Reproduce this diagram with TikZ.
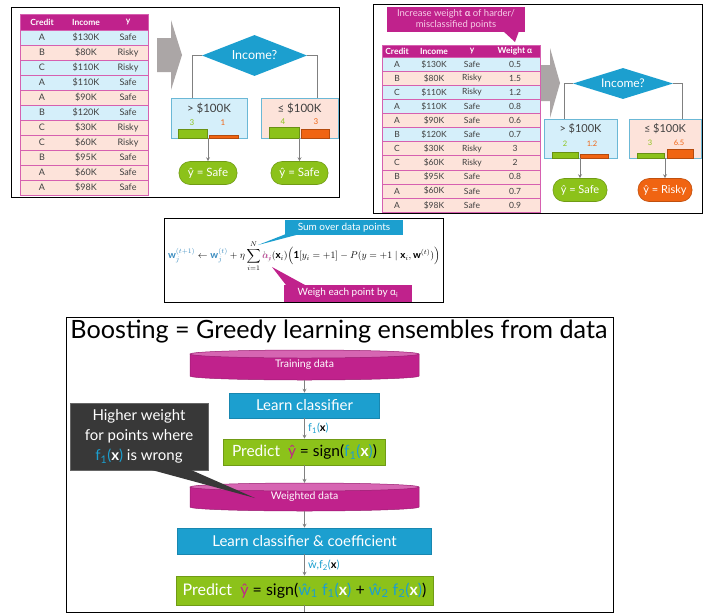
\documentclass[tikz,border=0pt]{standalone}
\usepackage{fontspec}
\setmainfont{Lato}
\usepackage{graphicx}
\usepackage{amsmath}
\usetikzlibrary{shapes.geometric,arrows.meta,calc}
\definecolor{mag}{HTML}{C0228C}
\definecolor{magtop}{HTML}{D665B2}
\definecolor{magline}{HTML}{D660B0}
\definecolor{rowblue}{HTML}{D5EFFA}
\definecolor{rowpeach}{HTML}{FDE3DA}
\definecolor{cblue}{HTML}{1C9FCF}
\definecolor{boxline}{HTML}{6BB8D6}
\definecolor{grn}{HTML}{8CC21A}
\definecolor{org}{HTML}{F06412}
\definecolor{garrow}{HTML}{ABA6A6}
\definecolor{linegray}{HTML}{808080}
\definecolor{darkbox}{HTML}{383838}
\definecolor{txtgray}{HTML}{404040}
\definecolor{wblue}{HTML}{3A8CC0}
\definecolor{calltxt}{HTML}{F6CBE6}
\newcommand{\fxb}[1]{\textcolor{cblue}{f\textsubscript{#1}(}\textbf{x}\textcolor{cblue}{)}}
\tikzset{
  panel/.style={draw=black,line width=1pt,inner sep=0},
  rowb/.style={draw=magline,line width=0.5pt,inner sep=0},
  cell/.style={text=txtgray,inner sep=0},
  hcell/.style={text=white,inner sep=0,font=\bfseries\fontsize{8.5}{9}\selectfont},
  qdiam/.style={diamond,aspect=2.5,fill=cblue,text=white,inner sep=0},
  leaf/.style={rectangle,draw=boxline,line width=0.8pt,inner sep=0},
  treeline/.style={draw=linegray,line width=0.8pt},
  arr/.style={draw=linegray,line width=0.8pt,-{Stealth[length=4pt,width=4pt]}},
  oval/.style={rectangle,rounded corners=11pt,minimum height=23pt,inner sep=0,text=white,line width=0.6pt},
  gbar/.style={fill=grn,draw=grn!75!black,line width=0.4pt},
  obar/.style={fill=org,draw=org!75!black,line width=0.4pt},
  gnum/.style={text=grn,inner sep=0},
  onum/.style={text=org,inner sep=0},
  flowbox/.style={rectangle,inner sep=0,text=white,line width=0.6pt},
}
\begin{document}
\begin{tikzpicture}[x=1pt,y=-1pt]
\useasboundingbox (0,0) rectangle (704,614);
\fill[white] (0,0) rectangle (704,614);

%================ Panel 1 =================
\node[panel,minimum width=328pt,minimum height=190pt] (pa) at (175,102) {};
\node[rowb,fill=mag,minimum width=128pt,minimum height=16pt] (tah) at (84,22) {};
\node[hcell] (tahA) at (42,22) {Credit};
\node[hcell] (tahB) at (86,22) {Income};
\node[hcell] (tahC) at (128,22) {y};
\foreach \ca/\cb/\cc/\rowc [count=\i] in {A/\$130K/Safe/rowblue, B/\$80K/Risky/rowpeach, C/\$110K/Risky/rowblue, A/\$110K/Safe/rowblue, A/\$90K/Safe/rowpeach, B/\$120K/Safe/rowblue, C/\$30K/Risky/rowpeach, C/\$60K/Risky/rowpeach, B/\$95K/Safe/rowpeach, A/\$60K/Safe/rowpeach, A/\$98K/Safe/rowpeach}{
  \pgfmathsetmacro\yc{30+15*(\i-0.5)}
  \node[rowb,fill=\rowc,minimum width=128pt,minimum height=15pt] (ta\i) at (84,\yc) {};
  \node[cell,font=\fontsize{9}{9}\selectfont] (taA\i) at (42,\yc) {\ca};
  \node[cell,font=\fontsize{9}{9}\selectfont] (taB\i) at (86,\yc) {\cb};
  \node[cell,font=\fontsize{9}{9}\selectfont] (taC\i) at (128,\yc) {\cc};
}
\fill[garrow] (157,38) -- (171,38) -- (171,20) -- (182,55) -- (171,90) -- (171,72) -- (157,72) -- cycle;
\node[qdiam,minimum width=105pt,minimum height=41pt,font=\fontsize{12.5}{13}\selectfont] (d1) at (254.5,55.5) {Income?};
\coordinate (c1l) at (192,98);
\coordinate (c1r) at (317,98);
\draw[treeline] (d1.west) -| (c1l);
\draw[treeline] (d1.east) -| (c1r);
\node[leaf,fill=rowblue,minimum width=76pt,minimum height=40pt] (b1l) at (209,118) {};
\node[leaf,fill=rowpeach,minimum width=77pt,minimum height=40pt] (b1r) at (299.5,118) {};
\node[cell,font=\fontsize{11.5}{12}\selectfont] (b1lt) at (209,108) {> \$100K};
\node[cell,font=\fontsize{11.5}{12}\selectfont] (b1rt) at (299.5,108) {≤ \$100K};
\node[gnum,font=\fontsize{8}{9}\selectfont] (n1a) at (192,123) {3};
\node[onum,font=\fontsize{8}{9}\selectfont] (n1b) at (223,123) {1};
\node[gnum,font=\fontsize{8}{9}\selectfont] (n1c) at (283,121.5) {4};
\node[onum,font=\fontsize{8}{9}\selectfont] (n1d) at (316,121.5) {3};
\draw[gbar] (178,129) rectangle (207,138);
\draw[obar] (209,135) rectangle (238,138);
\draw[gbar] (269,127) rectangle (299,138);
\draw[obar] (301,129) rectangle (329,138);
\node[oval,fill=grn,draw=grn!80!black,minimum width=58pt,font=\fontsize{11.5}{12}\selectfont] (o1l) at (208,173) {ŷ = Safe};
\node[oval,fill=grn,draw=grn!80!black,minimum width=57pt,font=\fontsize{11.5}{12}\selectfont] (o1r) at (299.5,173) {ŷ = Safe};
\draw[arr] (o1l.north |- b1l.south) -- (o1l.north);
\draw[arr] (o1r.north |- b1r.south) -- (o1r.north);

%================ Panel 2 =================
\node[panel,minimum width=329pt,minimum height=209pt] (pb) at (537.5,108.5) {};
\node[fill=mag,minimum width=138pt,minimum height=25pt,inner sep=0,text=calltxt,align=center,font=\fontsize{9.5}{11}\selectfont] (cal) at (456,19.5) {Increase weight \textbf{α} of harder/\\misclassified points};
\fill[mag] (503,31) -- (515,42) -- (519,31) -- cycle;
\node[rowb,fill=mag,minimum width=158pt,minimum height=12pt] (tbh) at (461,51) {};
\node[hcell,font=\bfseries\fontsize{8.5}{9}\selectfont] (tbhA) at (397,51) {Credit};
\node[hcell,font=\bfseries\fontsize{8.5}{9}\selectfont] (tbhB) at (434,51) {Income};
\node[hcell,font=\bfseries\fontsize{8.5}{9}\selectfont] (tbhC) at (472,51) {y};
\node[hcell,font=\bfseries\fontsize{8.5}{9}\selectfont] (tbhD) at (515,51) {Weight α};
\foreach \ca/\cb/\cc/\cd/\rowc [count=\i] in {A/\$130K/Safe/0.5/rowblue, B/\$80K/Risky/1.5/rowpeach, C/\$110K/Risky/1.2/rowblue, A/\$110K/Safe/0.8/rowblue, A/\$90K/Safe/0.6/rowpeach, B/\$120K/Safe/0.7/rowblue, C/\$30K/Risky/3/rowpeach, C/\$60K/Risky/2/rowpeach, B/\$95K/Safe/0.8/rowpeach, A/\$60K/Safe/0.7/rowpeach, A/\$98K/Safe/0.9/rowpeach}{
  \pgfmathsetmacro\yc{57+14.1*(\i-0.5)}
  \node[rowb,fill=\rowc,minimum width=158pt,minimum height=14.1pt] (tb\i) at (461,\yc) {};
  \node[cell,font=\fontsize{8.5}{9}\selectfont] (tbA\i) at (397,\yc) {\ca};
  \node[cell,font=\fontsize{8.5}{9}\selectfont] (tbB\i) at (434,\yc) {\cb};
  \node[cell,font=\fontsize{8.5}{9}\selectfont] (tbC\i) at (472,\yc) {\cc};
  \node[cell,font=\fontsize{8.5}{9}\selectfont] (tbD\i) at (515,\yc) {\cd};
}
\fill[garrow] (541,65) -- (550,65) -- (550,48) -- (560,83) -- (550,118) -- (550,101) -- (541,101) -- cycle;
\node[qdiam,minimum width=100pt,minimum height=31pt,font=\fontsize{12}{12}\selectfont] (d2) at (623,83.5) {Income?};
\coordinate (c2l) at (564,119);
\coordinate (c2r) at (682,119);
\draw[treeline] (d2.west) -| (c2l);
\draw[treeline] (d2.east) -| (c2r);
\node[leaf,fill=rowblue,minimum width=73pt,minimum height=39pt] (b2l) at (580.5,138.5) {};
\node[leaf,fill=rowpeach,minimum width=72pt,minimum height=39pt] (b2r) at (665,138.5) {};
\node[cell,font=\fontsize{11}{11}\selectfont] (b2lt) at (580.5,129) {> \$100K};
\node[cell,font=\fontsize{11}{11}\selectfont] (b2rt) at (665,129) {≤ \$100K};
\node[gnum,font=\fontsize{7.5}{8}\selectfont] (n2a) at (565,144) {2};
\node[onum,font=\fontsize{7.5}{8}\selectfont] (n2b) at (592,144) {1.2};
\node[gnum,font=\fontsize{7.5}{8}\selectfont] (n2c) at (650,143) {3};
\node[onum,font=\fontsize{7.5}{8}\selectfont] (n2d) at (679,143) {6.5};
\draw[gbar] (552,152) rectangle (578,158);
\draw[obar] (580,154) rectangle (608,158);
\draw[gbar] (637,153) rectangle (664,158);
\draw[obar] (667,149) rectangle (693,158);
\node[oval,fill=grn,draw=grn!80!black,minimum width=54pt,font=\fontsize{11}{11}\selectfont] (o2l) at (580,190) {ŷ = Safe};
\node[oval,fill=org,draw=org!80!black,minimum width=54pt,font=\fontsize{11}{11}\selectfont] (o2r) at (665,190) {ŷ = Risky};
\draw[arr] (o2l.north |- b2l.south) -- (o2l.north);
\draw[arr] (o2r.north |- b2r.south) -- (o2r.north);

%================ Panel 3 =================
\node[panel,minimum width=279pt,minimum height=84pt] (pc) at (303.5,260) {};
\node[inner sep=0] (fm) at (304,256) {\resizebox{272pt}{!}{$\displaystyle \textcolor{wblue}{\mathbf{w}_j^{(t+1)}} \leftarrow \textcolor{wblue}{\mathbf{w}_j^{(t)}} + \eta \sum_{i=1}^{N} \rlap{$\color{black!35}h_j$}{\color{mag}\alpha_i}(\mathbf{x}_i)\Big(\mathbf{1}[y_i=+1] - P(y=+1 \mid \mathbf{x}_i,\mathbf{w}^{(t)})\Big)$}};
\node[fill=cblue,text=white,minimum width=118pt,minimum height=15pt,inner sep=0,font=\fontsize{10}{10}\selectfont] (sumc) at (344,227.5) {Sum over data points};
\fill[cblue] (286,234) -- (258,245) -- (300,234) -- cycle;
\node[fill=mag,text=white,minimum width=128pt,minimum height=17pt,inner sep=0,font=\fontsize{10}{10}\selectfont] (weic) at (348,293) {Weigh each point by α\textsubscript{i}};
\fill[mag] (286,285) -- (272,267) -- (305,285) -- cycle;

%================ Panel 4 =================
\node[panel,minimum width=547pt,minimum height=295pt] (pd) at (339.5,464.5) {};
\node[anchor=base,inner sep=0] (title) at (339,338) {\resizebox{537pt}{!}{\fontsize{26}{28}\selectfont Boosting = Greedy learning ensembles from data}};
% training data cylinder
\fill[mag] (190,354) -- (190,376) arc[start angle=180,end angle=360,x radius=114.5pt,y radius=4pt] -- (419,354) -- cycle;
\draw[mag!80!black,line width=0.5pt] (190,354) -- (190,376) arc[start angle=180,end angle=360,x radius=114.5pt,y radius=4pt] -- (419,354);
\filldraw[fill=magtop,draw=mag!80!black,line width=0.5pt] (304.5,354) ellipse [x radius=114.5pt,y radius=4pt];
\node[inner sep=0,minimum width=229pt,minimum height=30pt,text=white,font=\fontsize{10.5}{11}\selectfont] (td) at (304.5,365) {\raisebox{-1pt}{Training data}};
\node[flowbox,fill=cblue,draw=cblue!85!black,minimum width=150pt,minimum height=25pt,font=\fontsize{15}{16}\selectfont] (lc) at (304.5,405.5) {Learn classifier};
\node[anchor=west,inner sep=0,font=\fontsize{11}{12}\selectfont] (f1l) at (308,428.5) {\fxb{1}};
\node[flowbox,fill=grn,draw=grn!80!black,minimum width=162pt,minimum height=26pt,font=\fontsize{15.5}{16}\selectfont] (pr1) at (304.5,452) {Predict~~\textcolor{mag}{ŷ}~\textcolor{black}{=~sign(}\fxb{1}\textcolor{black}{)}};
% weighted data cylinder
\fill[mag] (190,487) -- (190,507) arc[start angle=180,end angle=360,x radius=114.5pt,y radius=4pt] -- (419,487) -- cycle;
\draw[mag!80!black,line width=0.5pt] (190,487) -- (190,507) arc[start angle=180,end angle=360,x radius=114.5pt,y radius=4pt] -- (419,487);
\filldraw[fill=magtop,draw=mag!80!black,line width=0.5pt] (304.5,487) ellipse [x radius=114.5pt,y radius=4pt];
\node[inner sep=0,minimum width=229pt,minimum height=28pt,text=white,font=\fontsize{10.5}{11}\selectfont] (wd) at (304.5,497) {\raisebox{-2pt}{Weighted data}};
% callout
\node[fill=darkbox,draw=black!60,line width=0.5pt,minimum width=138pt,minimum height=67pt,inner sep=0,text=white,align=center,font=\fontsize{15}{20}\selectfont] (co) at (139,436.5) {Higher weight\\for points where\\\textcolor{cblue}{f\textsubscript{1}(}\textbf{x}\textcolor{cblue}{)} is wrong};
\fill[darkbox] (150,469.5) -- (255,498) -- (190,469.5) -- cycle;
\node[flowbox,fill=cblue,draw=cblue!85!black,minimum width=254pt,minimum height=26pt,font=\fontsize{15}{16}\selectfont] (lc2) at (304.5,541) {Learn classifier \& coefficient};
\node[anchor=west,inner sep=0,font=\fontsize{11}{12}\selectfont] (w2l) at (308,565) {\textcolor{cblue}{ŵ,f\textsubscript{2}(}\textbf{x}\textcolor{cblue}{)}};
\node[flowbox,fill=grn,draw=grn!80!black,minimum width=257pt,minimum height=29pt,font=\fontsize{16}{17}\selectfont] (pr2) at (304.5,590.5) {Predict~~\textcolor{mag}{ŷ}~\textcolor{black}{=~sign(}\textcolor{cblue}{ŵ\textsubscript{1}~}\fxb{1}~\textcolor{black}{+}~\textcolor{cblue}{ŵ\textsubscript{2}~}\fxb{2}\textcolor{black}{)}};
\coordinate (pend) at (304.5,612);
\draw[arr] (td.south) -- (lc.north);
\draw[arr] (lc.south) -- (pr1.north);
\draw[arr] (pr1.south) -- (wd.north);
\draw[arr] (wd.south) -- (lc2.north);
\draw[arr] (lc2.south) -- (pr2.north);
\draw[treeline] (pr2.south) -- (pend);
\end{tikzpicture}
\end{document}
